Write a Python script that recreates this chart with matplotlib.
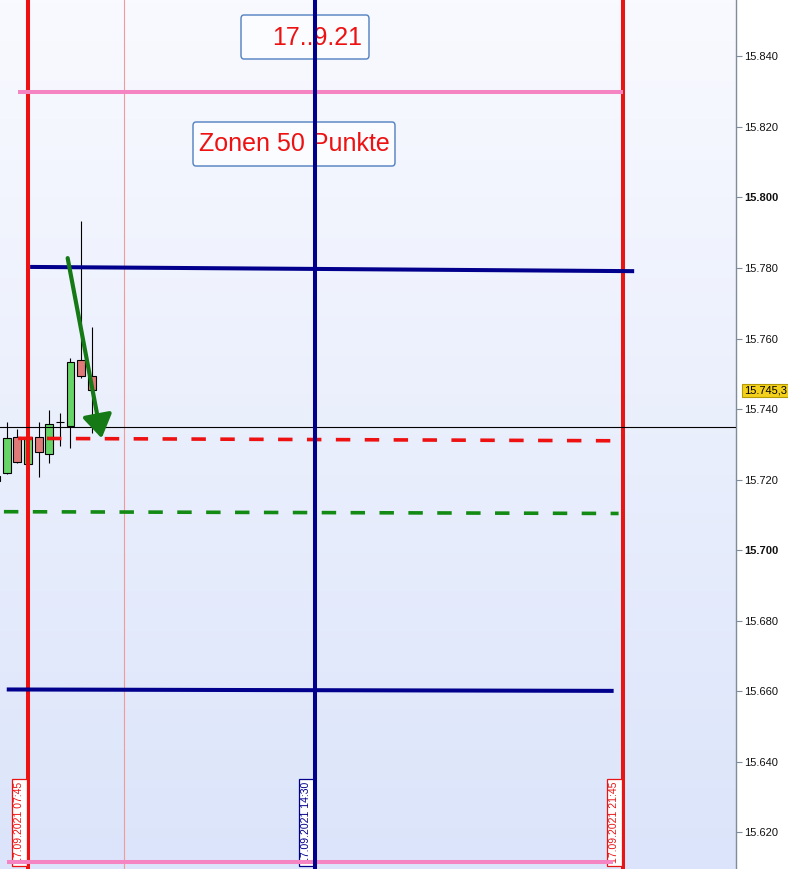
import matplotlib
matplotlib.use("Agg")
import matplotlib.pyplot as plt
import numpy as np
from matplotlib.patches import Rectangle, FancyBboxPatch

plt.rcParams['font.family'] = ['Liberation Sans', 'DejaVu Sans']

# ---------------- data ----------------
candle_times = ["07:00", "07:15", "07:30", "07:45", "08:00", "08:15", "08:30", "08:45", "09:00", "09:15"]
opens  = [15721.1, 15721.8, 15732.2, 15724.3, 15732.2, 15727.2, 15736.3, 15735.3, 15753.8, 15749.3]
highs  = [15721.6, 15736.4, 15734.3, 15734.1, 15736.2, 15739.7, 15739.0, 15754.4, 15793.3, 15763.3]
lows   = [15719.0, 15721.5, 15724.8, 15724.0, 15720.7, 15724.8, 15729.5, 15729.0, 15748.8, 15733.1]
closes = [15719.7, 15731.7, 15724.9, 15732.0, 15727.7, 15735.7, 15736.3, 15753.3, 15749.3, 15745.3]

vline_times = ["07:45", "14:30", "21:45"]
vline_labels = ["17.09.2021 07:45", "17.09.2021 14:30", "17.09.2021 21:45"]
vline_colors = ["#ee1111", "#00008c", "#e81515"]
thin_vline_time = "10:00"

# horizontal (slightly sloped) lines: start time, end time, start value, end value
hl_names  = ["pink_top", "blue_top", "red_dash", "green_dash", "blue_bottom", "pink_bottom"]
hl_t0     = ["07:31", "07:48", "07:31", "07:11", "07:15", "07:15"]
hl_t1     = ["21:45", "22:01", "21:45", "21:39", "21:32", "21:31"]
hl_v0     = [15829.9, 15780.3, 15731.7, 15710.9, 15660.5, 15611.7]
hl_v1     = [15829.9, 15779.1, 15731.0, 15710.4, 15660.1, 15611.7]

crosshair_value = 15734.9
last_price = 15745.3
last_price_label = "15.745,3"

arrow_start = ("08:41", 15782.8)
arrow_end = ("09:29", 15731.7)

yticks = [15620, 15640, 15660, 15680, 15700, 15720, 15740, 15760, 15780, 15800, 15820, 15840]
bold_ticks = [15700, 15800]

title_text = "17..9.21"
zone_text = "Zonen 50 Punkte"


def tmin(s):
    h, m = s.split(":")
    return int(h) * 60 + int(m)


# ---------------- figure ----------------
W, H = 788, 869
fig = plt.figure(figsize=(W / 100, H / 100), dpi=100, facecolor="white")
ax_w_px = 736
ax = fig.add_axes([0, 0, ax_w_px / W, 1])

x_left, x_right = 425.46, 1464.8
y_bot, y_top = 15609.6, 15855.98
ax.set_xlim(x_left, x_right)
ax.set_ylim(y_bot, y_top)

# gradient background
grad = np.linspace(0, 1, 256).reshape(-1, 1)
top_c = np.array([249, 250, 255]) / 255
bot_c = np.array([219, 228, 250]) / 255
img = top_c[None, None, :] * (1 - grad[..., None]) + bot_c[None, None, :] * grad[..., None]
ax.imshow(img, extent=[0, 1, 0, 1], transform=ax.transAxes, aspect="auto", zorder=0)

# candles
body_w = 11
for t, o, h, l, c in zip(candle_times, opens, highs, lows, closes):
    x = tmin(t)
    ax.vlines(x, l, h, color="black", lw=0.8, zorder=2)
    if abs(c - o) < 1e-9:
        ax.hlines(o, x - body_w / 2, x + body_w / 2, color="black", lw=0.8, zorder=2.1)
    else:
        col = "#66d466" if c > o else "#e07a78"
        ax.add_patch(Rectangle((x - body_w / 2, min(o, c)), body_w, abs(c - o),
                               facecolor=col, edgecolor="black", lw=0.8, zorder=2.1))

# thin vertical line
ax.axvline(tmin(thin_vline_time), color="#f29a9a", lw=0.8, zorder=2.5)

# red verticals (below horizontals), blue vertical above
for t, col in zip(vline_times, vline_colors):
    z = 5 if col == "#00008c" else 3
    ax.axvline(tmin(t), color=col, lw=2.9, zorder=z)

# horizontal lines
styles = {
    "pink_top": dict(color="#f585c2", lw=2.9, ls="-"),
    "blue_top": dict(color="#00008c", lw=2.9, ls="-"),
    "red_dash": dict(color="#ee1111", lw=2.6, ls=(0, (4, 4))),
    "green_dash": dict(color="#138a13", lw=2.6, ls=(0, (4, 4))),
    "blue_bottom": dict(color="#00008c", lw=2.9, ls="-"),
    "pink_bottom": dict(color="#f585c2", lw=2.9, ls="-"),
}
for n, t0, t1, v0, v1 in zip(hl_names, hl_t0, hl_t1, hl_v0, hl_v1):
    ax.plot([tmin(t0), tmin(t1)], [v0, v1], solid_capstyle="butt", dash_capstyle="butt",
            zorder=4.6 if n == "pink_bottom" else 4, **styles[n])

# crosshair
ax.axhline(crosshair_value, color="black", lw=0.8, zorder=4.2)

# arrow
ax.annotate("", xy=(tmin(arrow_end[0]), arrow_end[1]),
            xytext=(tmin(arrow_start[0]), arrow_start[1]),
            arrowprops=dict(arrowstyle="-|>,head_length=0.7,head_width=0.45",
                            mutation_scale=20, color="#157a15", lw=3,
                            shrinkA=0, shrinkB=0), zorder=6)

# text boxes (axes fraction coords)
def box(x0, y0, x1, y1):
    bx = FancyBboxPatch((x0 / ax_w_px, 1 - y1 / H), (x1 - x0) / ax_w_px, (y1 - y0) / H,
                        boxstyle="round,pad=0,rounding_size=0.004",
                        transform=ax.transAxes, facecolor="#fbfcff",
                        edgecolor="#4f7fc0", lw=1, zorder=4.5)
    ax.add_patch(bx)

box(241, 15, 369, 59)
ax.text(362 / ax_w_px, 1 - 38 / H, title_text, transform=ax.transAxes, ha="right",
        va="center", fontsize=18, color="#ee1111", zorder=4.6)
box(193, 122, 395, 166)
ax.text(294 / ax_w_px, 1 - 144 / H, zone_text, transform=ax.transAxes, ha="center",
        va="center", fontsize=18, color="#ee1111", zorder=4.6)

# date labels on vertical lines
label_colors = ["#ee1111", "#00008c", "#e81515"]
for t, lab, col in zip(vline_times, vline_labels, label_colors):
    ax.annotate(lab, xy=(tmin(t), 1 - 782 / H), xycoords=("data", "axes fraction"),
                xytext=(-6.2, 0), textcoords="offset points", rotation=90,
                ha="center", va="top", fontsize=7.5, color=col, zorder=4.3,
                bbox=dict(boxstyle="square,pad=0.25", fc="white", ec=col, lw=0.9),
                annotation_clip=False)

# axis styling
for s in ["top", "left", "bottom"]:
    ax.spines[s].set_visible(False)
ax.spines["right"].set_color("#7f8c99")
ax.spines["right"].set_linewidth(1)
ax.yaxis.tick_right()
ax.set_xticks([])
ax.set_yticks(yticks)
ax.set_yticklabels([f"{v / 1000:.3f}" for v in yticks])
for lbl, v in zip(ax.get_yticklabels(), yticks):
    lbl.set_fontweight("bold" if v in bold_ticks else "normal")
    lbl.set_color("#111111")
ax.tick_params(axis="y", direction="out", length=4, width=0.8, color="#7f8c99",
               labelsize=8, pad=2)

# last price label
ax.annotate(last_price_label,
            xy=(1, last_price), xycoords=("axes fraction", "data"),
            xytext=(5.5, 0), textcoords="offset points", ha="left", va="center",
            fontsize=8, color="black", zorder=10,
            bbox=dict(boxstyle="square,pad=0.15", fc="#f2d01c", ec="#b59a00", lw=0.8),
            annotation_clip=False)

fig.savefig("out.png", dpi=100, facecolor="white")
